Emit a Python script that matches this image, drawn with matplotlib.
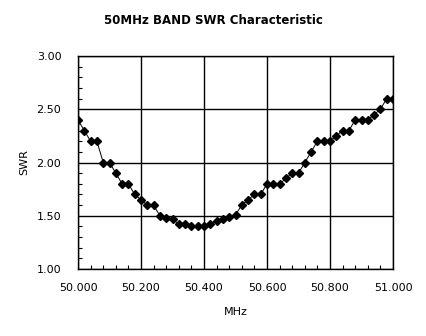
import numpy as np
import matplotlib
matplotlib.use("Agg")
import matplotlib.pyplot as plt
from matplotlib.ticker import MultipleLocator, FormatStrFormatter

# frequency (MHz) and measured SWR
freq = [50.00, 50.02, 50.04, 50.06, 50.08, 50.10, 50.12, 50.14, 50.16, 50.18,
        50.20, 50.22, 50.24, 50.26, 50.28, 50.30, 50.32, 50.34, 50.36, 50.38,
        50.40, 50.42, 50.44, 50.46, 50.48, 50.50, 50.52, 50.54, 50.56, 50.58,
        50.60, 50.62, 50.64, 50.66, 50.68, 50.70, 50.72, 50.74, 50.76, 50.78,
        50.80, 50.82, 50.84, 50.86, 50.88, 50.90, 50.92, 50.94, 50.96, 50.98,
        51.00]
swr = [2.40, 2.30, 2.20, 2.20, 2.00, 2.00, 1.90, 1.80, 1.80, 1.70,
       1.65, 1.60, 1.60, 1.50, 1.48, 1.47, 1.42, 1.42, 1.40, 1.40,
       1.40, 1.42, 1.45, 1.47, 1.49, 1.51, 1.60, 1.65, 1.70, 1.70,
       1.80, 1.80, 1.80, 1.85, 1.90, 1.90, 2.00, 2.10, 2.20, 2.20,
       2.20, 2.25, 2.30, 2.30, 2.40, 2.40, 2.40, 2.45, 2.50, 2.60,
       2.60]

plt.rcParams['font.family'] = ['DejaVu Sans']

fig = plt.figure(figsize=(4.27, 3.36), dpi=100)
ax = fig.add_axes([0.1827, 0.1994, 0.7377, 0.6339])

ax.plot(freq, swr, color="black", linewidth=0.7, marker="D",
        markersize=4, markerfacecolor="black", markeredgecolor="black")

ax.set_xlim(50.0, 51.0)
ax.set_ylim(1.0, 3.0)
ax.xaxis.set_major_locator(MultipleLocator(0.2))
ax.xaxis.set_minor_locator(MultipleLocator(0.04))
ax.yaxis.set_major_locator(MultipleLocator(0.5))
ax.yaxis.set_minor_locator(MultipleLocator(0.1))
ax.xaxis.set_major_formatter(FormatStrFormatter("%.3f"))
ax.yaxis.set_major_formatter(FormatStrFormatter("%.2f"))

ax.grid(True, which="major", color="black", linewidth=1)
ax.tick_params(axis="x", which="major", length=0, labelsize=8, pad=10)
ax.tick_params(axis="y", which="major", length=0, labelsize=8, pad=12)
ax.tick_params(which="minor", direction="in", length=3, width=0.8,
               top=False, right=False)
for s in ax.spines.values():
    s.set_color("black")
    s.set_linewidth(1)

ax.set_xlabel("MHz", fontsize=8, labelpad=10)
ax.set_ylabel("SWR", fontsize=8, labelpad=5)
fig.text(0.5, 0.94, "50MHz BAND SWR Characteristic", ha="center",
         va="center", fontsize=8.5, fontweight="bold")

fig.savefig("out.png", dpi=100)
plt.close(fig)
